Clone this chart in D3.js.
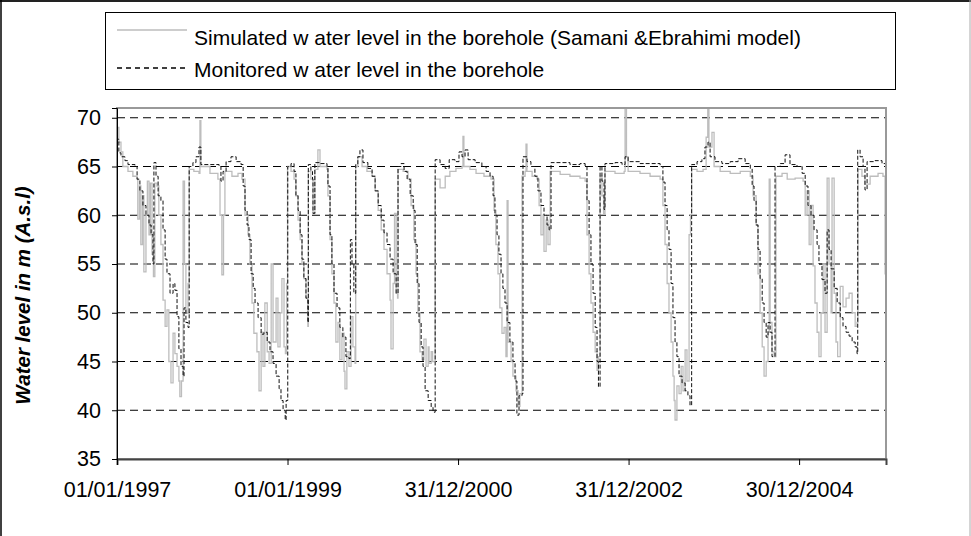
<!DOCTYPE html>
<html>
<head>
<meta charset="utf-8">
<script src="https://cdn.jsdelivr.net/npm/d3@7"></script>
<style>
  body { margin: 0; background: #fff; }
  text { font-family: "Liberation Sans", Arial, sans-serif; }
</style>
</head>
<body>
<div id="chart"></div>
<script>
// series: [date, water level in m]
var monitored = [
  ["1997-01-01",35.0],["1997-01-02",67.8],["1997-01-09",66.4],["1997-01-18",66.0],["1997-02-04",65.6],
  ["1997-02-17",65.2],["1997-03-19",65.0],["1997-03-28",63.7],["1997-04-09",62.5],["1997-04-22",61.0],
  ["1997-05-05",60.0],["1997-05-18",59.0],["1997-05-27",58.0],["1997-06-04",55.0],["1997-06-08",65.4],
  ["1997-06-17",64.0],["1997-06-26",62.0],["1997-07-08",61.5],["1997-07-17",58.5],["1997-07-26",55.5],
  ["1997-08-03",54.0],["1997-08-16",52.0],["1997-08-29",53.0],["1997-09-06",52.3],["1997-09-15",49.6],
  ["1997-09-23",46.3],["1997-10-02",44.5],["1997-10-11",43.5],["1997-10-15",50.5],["1997-10-23",49.0],
  ["1997-11-01",48.5],["1997-11-06",65.0],["1997-11-22",65.4],["1997-12-05",66.0],["1997-12-18",67.0],
  ["1997-12-26",65.2],["1998-02-03",65.2],["1998-03-14",65.0],["1998-03-22",63.5],["1998-03-31",64.5],
  ["1998-04-13",65.5],["1998-05-04",66.0],["1998-05-26",65.5],["1998-06-16",65.2],["1998-06-25",63.0],
  ["1998-07-03",60.5],["1998-07-12",59.0],["1998-07-20",57.5],["1998-07-29",54.0],["1998-08-07",52.5],
  ["1998-08-15",51.0],["1998-08-28",49.5],["1998-09-10",47.8],["1998-09-22",48.0],["1998-10-06",47.0],
  ["1998-10-18",46.0],["1998-10-31",44.8],["1998-11-13",43.5],["1998-11-26",42.2],["1998-12-04",41.0],
  ["1998-12-13",40.0],["1998-12-22",39.0],["1998-12-26",41.0],["1999-01-02",65.0],["1999-01-16",65.3],
  ["1999-01-29",64.5],["1999-02-06",62.0],["1999-02-15",60.5],["1999-02-24",58.0],["1999-03-04",55.5],
  ["1999-03-12",53.5],["1999-03-21",51.5],["1999-03-29",49.0],["1999-03-31",65.2],["1999-04-11",64.5],
  ["1999-04-18",63.7],["1999-04-20",60.2],["1999-04-28",65.4],["1999-05-20",65.3],["1999-06-19",65.0],
  ["1999-06-23",63.0],["1999-07-02",58.0],["1999-07-10",55.0],["1999-07-19",52.0],["1999-08-01",50.5],
  ["1999-08-13",48.5],["1999-08-26",47.5],["1999-09-08",45.5],["1999-09-21",45.3],["1999-09-27",57.5],
  ["1999-10-04",55.0],["1999-10-12",52.0],["1999-10-20",65.2],["1999-10-29",66.0],["1999-11-07",66.7],
  ["1999-11-20",65.4],["1999-12-11",64.8],["1999-12-29",64.0],["2000-01-11",62.5],["2000-01-24",61.0],
  ["2000-02-06",59.5],["2000-02-18",58.2],["2000-03-02",57.0],["2000-03-15",55.5],["2000-03-28",54.0],
  ["2000-04-10",52.0],["2000-04-18",65.0],["2000-05-01",65.3],["2000-05-14",64.5],["2000-05-27",63.7],
  ["2000-06-09",62.0],["2000-06-22",60.5],["2000-06-30",57.0],["2000-07-09",53.0],["2000-07-17",49.0],
  ["2000-07-26",46.5],["2000-08-03",44.5],["2000-08-12",42.0],["2000-08-25",41.0],["2000-09-07",40.3],
  ["2000-09-15",39.8],["2000-09-24",65.7],["2000-10-15",65.2],["2000-11-06",64.8],["2000-11-23",65.7],
  ["2000-12-18",65.5],["2001-01-04",66.5],["2001-01-17",66.0],["2001-01-30",66.7],["2001-02-12",65.7],
  ["2001-03-14",65.4],["2001-04-12",65.0],["2001-04-30",64.5],["2001-05-17",64.0],["2001-05-30",62.0],
  ["2001-06-07",60.0],["2001-06-16",58.0],["2001-06-24",56.0],["2001-07-03",54.0],["2001-07-11",52.5],
  ["2001-07-20",51.0],["2001-07-29",49.0],["2001-08-10",47.0],["2001-08-23",45.0],["2001-09-01",43.0],
  ["2001-09-09",39.5],["2001-09-18",41.5],["2001-10-01",41.7],["2001-10-05",66.0],["2001-10-22",65.5],
  ["2001-11-08",65.0],["2001-11-25",64.0],["2001-12-08",62.5],["2001-12-21",61.0],["2002-01-03",60.0],
  ["2002-01-16",59.0],["2002-01-25",58.5],["2002-02-02",65.4],["2002-03-13",65.4],["2002-04-24",65.2],
  ["2002-06-06",65.3],["2002-06-28",65.0],["2002-07-06",61.5],["2002-07-15",58.0],["2002-07-23",55.0],
  ["2002-08-01",52.0],["2002-08-10",48.5],["2002-08-18",45.0],["2002-08-24",42.4],["2002-08-31",65.0],
  ["2002-09-08",63.5],["2002-09-17",60.6],["2002-09-21",65.3],["2002-11-03",65.4],["2002-12-03",65.2],
  ["2002-12-16",66.0],["2002-12-29",65.5],["2003-02-18",65.3],["2003-04-02",65.3],["2003-05-15",65.0],
  ["2003-05-27",63.4],["2003-06-05",61.0],["2003-06-14",58.5],["2003-06-22",56.5],["2003-07-01",53.0],
  ["2003-07-09",49.5],["2003-07-18",47.0],["2003-07-26",45.5],["2003-08-04",43.5],["2003-08-17",42.8],
  ["2003-08-30",42.0],["2003-09-11",41.5],["2003-09-20",40.5],["2003-09-27",65.2],["2003-10-20",65.5],
  ["2003-11-10",65.8],["2003-11-23",67.0],["2003-12-06",67.5],["2003-12-15",66.0],["2004-01-05",65.5],
  ["2004-02-04",65.3],["2004-03-10",65.5],["2004-04-13",65.8],["2004-05-13",65.3],["2004-06-04",64.8],
  ["2004-06-12",63.0],["2004-06-20",61.5],["2004-06-29",59.0],["2004-07-07",56.5],["2004-07-16",53.5],
  ["2004-07-25",51.0],["2004-08-02",49.0],["2004-08-11",47.5],["2004-08-19",49.0],["2004-08-28",48.0],
  ["2004-09-05",45.5],["2004-09-18",65.0],["2004-10-10",65.3],["2004-10-31",66.2],["2004-11-21",65.2],
  ["2004-12-21",65.0],["2005-01-12",64.3],["2005-01-25",63.0],["2005-02-06",61.0],["2005-02-19",60.0],
  ["2005-03-04",58.5],["2005-03-17",57.0],["2005-03-25",55.0],["2005-04-07",53.4],["2005-04-20",52.0],
  ["2005-04-29",58.5],["2005-05-07",56.5],["2005-05-16",54.5],["2005-05-29",52.5],["2005-06-11",51.0],
  ["2005-06-24",49.5],["2005-07-06",48.6],["2005-07-19",48.0],["2005-08-01",47.6],["2005-08-14",47.0],
  ["2005-08-27",46.5],["2005-09-04",45.8],["2005-09-07",66.7],["2005-09-17",66.0],["2005-09-30",65.0],
  ["2005-10-08",62.6],["2005-10-17",65.5],["2005-11-20",65.6],["2005-12-20",65.3],["2006-01-05",64.0]
];

var simulated = [
  ["1997-01-01",35.0],["1997-01-02",69.0],["1997-01-09",67.5],["1997-01-18",66.5],["1997-01-26",65.0],
  ["1997-02-17",64.5],["1997-03-10",64.0],["1997-03-28",63.7],["1997-03-31",59.6],["1997-04-07",63.0],
  ["1997-04-13",57.0],["1997-04-20",62.0],["1997-04-26",54.2],["1997-05-05",60.0],["1997-05-11",63.5],
  ["1997-05-18",58.0],["1997-05-24",63.3],["1997-05-31",56.0],["1997-06-06",53.7],["1997-06-12",63.3],
  ["1997-06-21",63.0],["1997-06-29",60.0],["1997-07-08",57.0],["1997-07-17",51.3],["1997-07-26",48.6],
  ["1997-08-03",50.3],["1997-08-11",45.0],["1997-08-20",42.8],["1997-08-29",47.9],["1997-09-06",45.8],
  ["1997-09-15",44.5],["1997-09-23",43.0],["1997-09-27",41.4],["1997-10-04",43.0],["1997-10-11",63.5],
  ["1997-10-17",55.0],["1997-10-23",50.0],["1997-11-01",53.0],["1997-11-06",64.7],["1997-11-26",64.5],
  ["1997-12-18",64.3],["1997-12-22",69.7],["1997-12-26",65.0],["1998-02-03",64.3],["1998-03-09",63.7],
  ["1998-03-18",60.0],["1998-03-26",53.9],["1998-04-02",60.0],["1998-04-08",64.5],["1998-05-08",64.0],
  ["1998-06-03",64.3],["1998-06-20",63.7],["1998-07-03",60.0],["1998-07-16",58.0],["1998-07-24",55.0],
  ["1998-08-02",51.0],["1998-08-10",47.9],["1998-08-23",46.0],["1998-09-01",42.0],["1998-09-10",48.0],
  ["1998-09-18",44.5],["1998-09-26",51.0],["1998-10-06",46.0],["1998-10-14",44.8],["1998-10-23",55.0],
  ["1998-10-31",47.0],["1998-11-13",51.5],["1998-11-21",46.5],["1998-11-30",50.0],["1998-12-08",53.5],
  ["1998-12-17",46.5],["1998-12-23",45.8],["1998-12-28",53.0],["1999-01-01",65.0],["1999-01-16",64.5],
  ["1999-01-29",63.7],["1999-02-06",62.0],["1999-02-15",59.5],["1999-02-24",57.5],["1999-03-04",55.0],
  ["1999-03-12",53.5],["1999-03-21",51.5],["1999-03-29",48.6],["1999-03-31",64.5],["1999-04-11",63.7],
  ["1999-04-20",60.2],["1999-04-28",64.7],["1999-05-11",66.7],["1999-05-20",65.0],["1999-06-19",64.7],
  ["1999-06-23",62.0],["1999-07-02",57.5],["1999-07-10",54.0],["1999-07-19",51.0],["1999-07-27",47.0],
  ["1999-08-05",49.0],["1999-08-13",45.2],["1999-08-22",47.9],["1999-08-31",44.0],["1999-09-04",42.2],
  ["1999-09-12",46.0],["1999-09-21",44.5],["1999-09-30",49.6],["1999-10-08",46.5],["1999-10-17",44.8],
  ["1999-10-20",65.0],["1999-10-29",66.0],["1999-11-16",65.0],["1999-12-07",64.5],["1999-12-29",64.0],
  ["2000-01-11",62.5],["2000-01-24",60.5],["2000-02-06",58.5],["2000-02-18",56.5],["2000-03-02",54.0],
  ["2000-03-15",51.3],["2000-03-19",46.3],["2000-03-28",53.0],["2000-04-03",60.2],["2000-04-10",52.0],
  ["2000-04-16",51.5],["2000-04-18",64.7],["2000-05-10",64.5],["2000-05-31",63.7],["2000-06-13",61.0],
  ["2000-06-25",57.5],["2000-07-04",54.0],["2000-07-12",50.0],["2000-07-21",46.0],["2000-07-30",45.2],
  ["2000-08-07",47.3],["2000-08-16",44.5],["2000-08-25",46.5],["2000-08-29",44.8],["2000-09-07",46.0],
  ["2000-09-13",45.0],["2000-09-24",63.7],["2000-10-15",62.8],["2000-11-06",64.0],["2000-11-26",64.5],
  ["2000-12-22",64.8],["2001-01-17",65.0],["2001-01-21",68.1],["2001-01-25",65.0],["2001-02-20",64.7],
  ["2001-03-18",64.3],["2001-04-21",64.0],["2001-05-21",63.7],["2001-06-03",60.5],["2001-06-11",57.0],
  ["2001-06-20",54.0],["2001-06-28",50.5],["2001-07-07",47.9],["2001-07-16",48.5],["2001-07-24",45.5],
  ["2001-07-29",61.5],["2001-08-02",47.0],["2001-08-15",45.0],["2001-08-23",43.5],["2001-09-05",42.0],
  ["2001-09-14",40.4],["2001-09-22",41.7],["2001-10-01",64.0],["2001-10-14",64.5],["2001-10-18",67.3],
  ["2001-10-22",64.5],["2001-11-13",64.0],["2001-12-04",63.7],["2001-12-13",61.0],["2001-12-21",58.0],
  ["2001-12-30",60.0],["2002-01-03",56.3],["2002-01-12",59.5],["2002-01-20",57.0],["2002-01-29",64.5],
  ["2002-03-13",64.2],["2002-04-24",64.0],["2002-06-06",63.8],["2002-06-28",63.5],["2002-07-06",58.0],
  ["2002-07-15",54.0],["2002-07-23",51.0],["2002-08-01",48.0],["2002-08-10",46.0],["2002-08-18",44.1],
  ["2002-08-24",45.5],["2002-08-31",64.0],["2002-09-08",62.0],["2002-09-15",60.2],["2002-09-21",64.5],
  ["2002-11-03",64.3],["2002-12-12",64.5],["2002-12-16",71.0],["2002-12-22",66.0],["2002-12-29",64.5],
  ["2003-02-18",64.3],["2003-04-02",64.0],["2003-05-15",63.7],["2003-05-27",61.0],["2003-06-05",57.0],
  ["2003-06-14",53.0],["2003-06-22",50.0],["2003-07-01",47.0],["2003-07-09",43.5],["2003-07-14",41.0],
  ["2003-07-18",39.0],["2003-07-26",42.5],["2003-08-04",41.7],["2003-08-13",44.5],["2003-08-21",42.0],
  ["2003-08-30",46.2],["2003-09-07",43.0],["2003-09-16",58.0],["2003-09-22",60.0],["2003-09-27",64.7],
  ["2003-10-20",64.5],["2003-11-15",64.7],["2003-11-28",68.0],["2003-12-05",71.0],["2003-12-10",67.0],
  ["2003-12-23",68.5],["2004-01-01",65.0],["2004-01-27",64.5],["2004-03-10",64.3],["2004-04-22",64.5],
  ["2004-06-04",64.0],["2004-06-16",62.0],["2004-06-29",59.0],["2004-07-07",54.0],["2004-07-16",50.0],
  ["2004-07-25",46.5],["2004-08-02",43.5],["2004-08-11",45.0],["2004-08-19",48.0],["2004-08-24",63.7],
  ["2004-08-28",49.0],["2004-09-05",46.0],["2004-09-14",45.5],["2004-09-22",64.0],["2004-10-18",64.3],
  ["2004-11-09",63.7],["2004-12-13",63.8],["2005-01-16",63.5],["2005-01-25",60.0],["2005-02-02",62.5],
  ["2005-02-11",57.0],["2005-02-19",61.0],["2005-02-28",54.8],["2005-03-08",51.0],["2005-03-17",48.0],
  ["2005-03-25",45.5],["2005-04-03",50.0],["2005-04-12",55.0],["2005-04-20",48.0],["2005-04-29",63.8],
  ["2005-05-07",55.0],["2005-05-16",50.0],["2005-05-20",63.8],["2005-05-29",52.0],["2005-06-06",47.0],
  ["2005-06-13",45.5],["2005-06-24",52.7],["2005-07-06",50.6],["2005-07-19",51.5],["2005-08-01",52.0],
  ["2005-08-14",50.0],["2005-08-27",48.6],["2005-09-04",49.0],["2005-09-08",64.7],["2005-09-25",64.0],
  ["2005-10-08",63.2],["2005-10-30",64.0],["2005-12-03",64.3],["2005-12-24",64.0],["2006-01-02",54.0],
  ["2006-01-05",55.0]
];

var xTickDates = ["1997-01-01", "1999-01-01", "2000-12-31", "2002-12-31", "2004-12-30"];
var yTickValues = [35, 40, 45, 50, 55, 60, 65, 70];
var xDomain = ["1997-01-01", "2006-01-06"];
var yDomain = [35, 71];

var legendLabels = [
  "Simulated w ater level in the borehole (Samani &Ebrahimi model)",
  "Monitored w ater level in the borehole"
];
var yTitle = "Water level in m (A.s.l)";

var width = 971;
var height = 536;

var plotLeft = 117;
var plotRight = 886;
var plotTop = 108;
var plotBottom = 459;

var parseDate = d3.timeParse("%Y-%m-%d");
var formatDate = d3.timeFormat("%d/%m/%Y");

var svg = d3
  .select("#chart")
  .append("svg")
  .attr("width", width)
  .attr("height", height);

svg.append("rect")
  .attr("width", width)
  .attr("height", height)
  .attr("fill", "#fff");

// outer chart frame
svg.append("line").attr("x1", 0).attr("x2", width).attr("y1", 1).attr("y2", 1)
  .attr("stroke", "#222").attr("stroke-width", 2);
svg.append("line").attr("x1", 1).attr("x2", 1).attr("y1", 0).attr("y2", height)
  .attr("stroke", "#000").attr("stroke-width", 1.5);
svg.append("line").attr("x1", 970).attr("x2", 970).attr("y1", 0).attr("y2", height)
  .attr("stroke", "#aaa").attr("stroke-width", 1);

var xScale = d3
  .scaleTime()
  .domain(xDomain.map(parseDate))
  .range([plotLeft, plotRight]);

var yScale = d3
  .scaleLinear()
  .domain(yDomain)
  .range([plotBottom, plotTop]);

// gridlines
svg.append("g")
  .selectAll("line")
  .data(yTickValues.filter(function(d) { return d > yDomain[0]; }))
  .enter()
  .append("line")
  .attr("x1", plotLeft)
  .attr("x2", plotRight)
  .attr("y1", function(d) { return yScale(d); })
  .attr("y2", function(d) { return yScale(d); })
  .attr("stroke", "#000")
  .attr("stroke-width", 1)
  .attr("stroke-dasharray", "8,5");

svg.append("clipPath").attr("id", "plotClip")
  .append("rect")
  .attr("x", plotLeft)
  .attr("y", plotTop)
  .attr("width", plotRight - plotLeft)
  .attr("height", plotBottom - plotTop);

// readings are stepwise, so draw them as steps
var line = d3.line()
  .curve(d3.curveStepAfter)
  .x(function(d) { return xScale(parseDate(d[0])); })
  .y(function(d) { return yScale(d[1]); });

var lines = svg.append("g").attr("clip-path", "url(#plotClip)");

lines.append("path")
  .datum(simulated)
  .attr("d", line)
  .attr("fill", "none")
  .attr("stroke", "#bdbdbd")
  .attr("stroke-width", 1.3);

lines.append("path")
  .datum(monitored)
  .attr("d", line)
  .attr("fill", "none")
  .attr("stroke", "#111")
  .attr("stroke-width", 1)
  .attr("stroke-dasharray", "4,2");

// plot frame
svg.append("rect")
  .attr("x", plotLeft)
  .attr("y", plotTop)
  .attr("width", plotRight - plotLeft)
  .attr("height", plotBottom - plotTop)
  .attr("fill", "none")
  .attr("stroke", "#999")
  .attr("stroke-width", 2);

var xAxis = d3.axisBottom(xScale)
  .tickValues(xTickDates.map(parseDate))
  .tickFormat(formatDate)
  .tickSize(6)
  .tickPadding(17);

var yAxis = d3.axisLeft(yScale)
  .tickValues(yTickValues)
  .tickSize(5)
  .tickPadding(11);

var gx = svg.append("g")
  .attr("transform", "translate(0," + plotBottom + ")")
  .call(xAxis);
gx.select(".domain").attr("stroke", "#444").attr("stroke-width", 2);

var gy = svg.append("g")
  .attr("transform", "translate(" + plotLeft + ",0)")
  .call(yAxis);
gy.select(".domain").attr("stroke", "#000").attr("stroke-width", 1);

svg.selectAll(".tick text")
  .attr("font-family", "Liberation Sans, Arial, sans-serif")
  .attr("font-size", 21.5)
  .attr("fill", "#000");
svg.selectAll(".tick line").attr("stroke", "#000");

// y axis title
svg.append("text")
  .attr("transform", "translate(30," + ((plotTop + plotBottom) / 2 + 12) + ")rotate(-90)")
  .attr("text-anchor", "middle")
  .attr("font-size", 20.5)
  .attr("font-weight", "bold")
  .attr("font-style", "italic")
  .text(yTitle);

// legend
var legend = svg.append("g");
legend.append("rect")
  .attr("x", 105.5)
  .attr("y", 12.5)
  .attr("width", 790)
  .attr("height", 77)
  .attr("fill", "#fff")
  .attr("stroke", "#000")
  .attr("stroke-width", 1);

var legendRows = [
  { label: legendLabels[0], y: 30, color: "#bdbdbd", dash: null, base: 45 },
  { label: legendLabels[1], y: 68, color: "#000", dash: "5,4", base: 77 }
];

legendRows.forEach(function(r) {
  legend.append("line")
    .attr("x1", 117)
    .attr("x2", 187)
    .attr("y1", r.y)
    .attr("y2", r.y)
    .attr("stroke", r.color)
    .attr("stroke-width", 1.3)
    .attr("stroke-dasharray", r.dash);
  legend.append("text")
    .attr("x", 194)
    .attr("y", r.base)
    .attr("font-size", 21)
    .text(r.label);
});
</script>
</body>
</html>
